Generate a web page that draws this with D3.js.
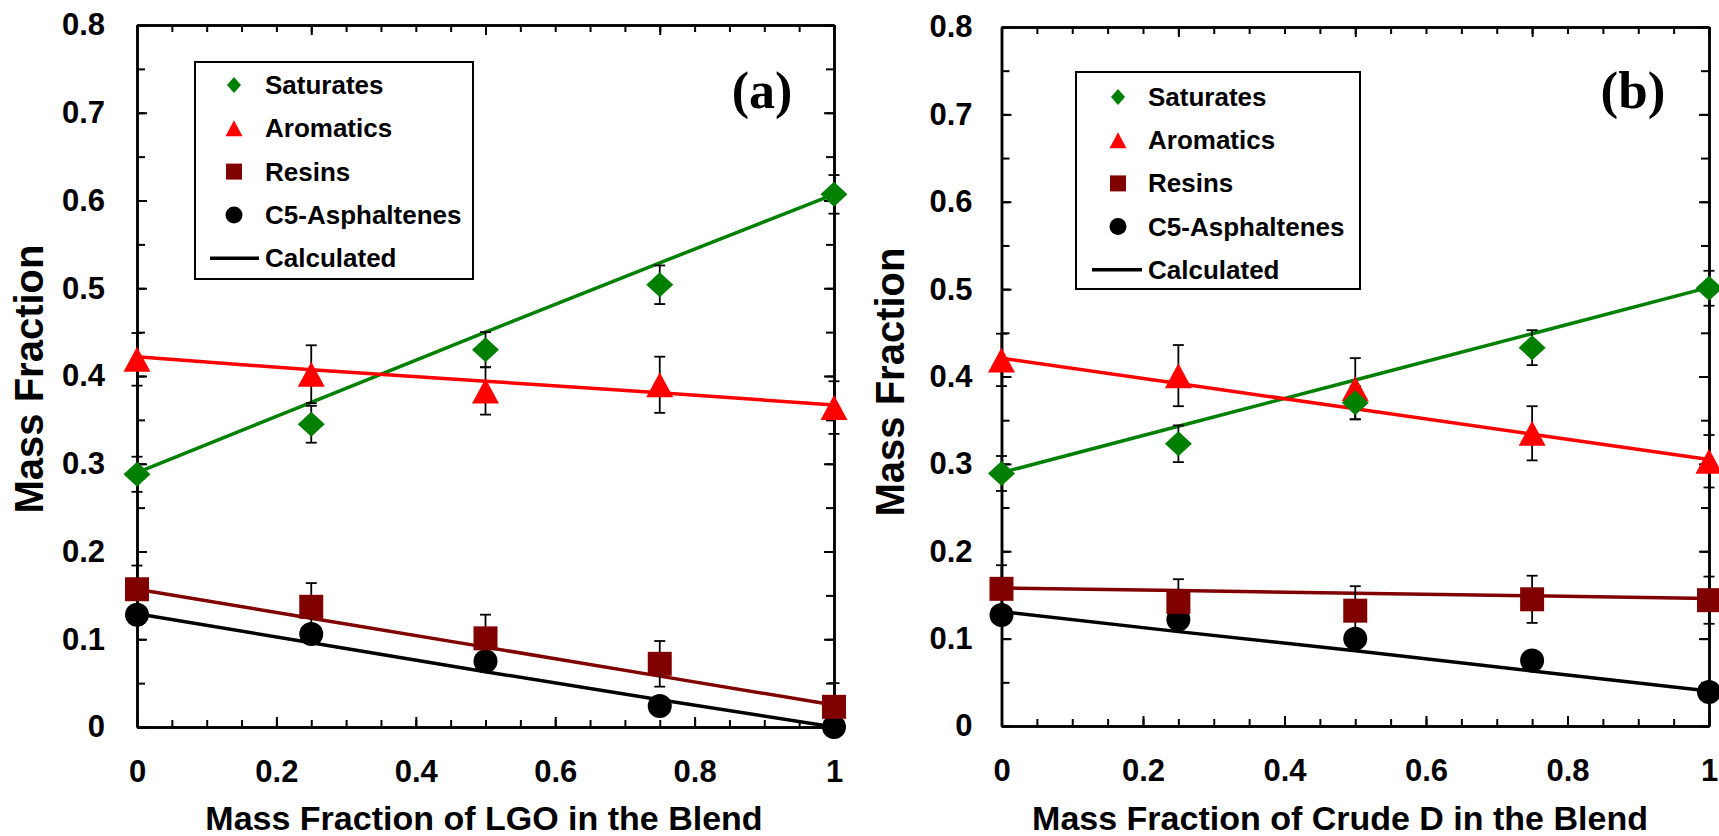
<!DOCTYPE html>
<html>
<head>
<meta charset="utf-8">
<script src="https://cdn.jsdelivr.net/npm/d3@7"></script>
<style>
  body { margin: 0; background: #fff; }
  text { font-family: "Liberation Sans", Arial, sans-serif; font-weight: bold; fill: #000; }
</style>
</head>
<body>
<svg id="chart"></svg>
<script>
// x positions shared by both panels
const blendFrac = [0, 0.25, 0.5, 0.75, 1];

// panel (a): LGO in the blend  -- measured points
const satA = [0.288, 0.345, 0.430, 0.504, 0.607];
const aroA = [0.419, 0.402, 0.383, 0.390, 0.364];
const resA = [0.157, 0.137, 0.101, 0.072, 0.023];
const c5A  = [0.128, 0.106, 0.075, 0.024, 0.000];
// error bars (+/-)
const satErrA = [0.020, 0.021, 0.020, 0.022, 0.022];
const aroErrA = [0.030, 0.033, 0.027, 0.032, 0.030];
const resErrA = [0.027, 0.027, 0.027, 0.026, 0.027];
const c5ErrA  = [0.006, 0.006, 0.006, 0.006, 0.006];
// calculated lines
const satCalcA = [0.290, 0.370, 0.450, 0.529, 0.607];
const aroCalcA = [0.422, 0.407, 0.394, 0.381, 0.367];
const resCalcA = [0.157, 0.124, 0.091, 0.058, 0.025];
const c5CalcA  = [0.129, 0.096, 0.063, 0.031, 0.000];

// panel (b): Crude D in the blend
const satB = [0.289, 0.323, 0.370, 0.433, 0.501];
const aroB = [0.419, 0.401, 0.386, 0.335, 0.303];
const resB = [0.157, 0.142, 0.132, 0.145, 0.144];
const c5B  = [0.127, 0.122, 0.100, 0.075, 0.039];
const satErrB = [0.020, 0.021, 0.019, 0.020, 0.020];
const aroErrB = [0.030, 0.035, 0.035, 0.031, 0.030];
const resErrB = [0.027, 0.026, 0.028, 0.027, 0.027];
const c5ErrB  = [0.006, 0.006, 0.006, 0.006, 0.006];
const satCalcB = [0.290, 0.343, 0.396, 0.449, 0.502];
const aroCalcB = [0.421, 0.392, 0.363, 0.334, 0.305];
const resCalcB = [0.158, 0.155, 0.152, 0.149, 0.146];
const c5CalcB  = [0.131, 0.108, 0.086, 0.063, 0.040];

// labels and ticks
const seriesNames = ["Saturates", "Aromatics", "Resins", "C5-Asphaltenes"];
const calcName = "Calculated";
const xTickValues = [0, 0.2, 0.4, 0.6, 0.8, 1];
const yTickValues = [0, 0.1, 0.2, 0.3, 0.4, 0.5, 0.6, 0.7, 0.8];
const xTopMajor = [0, 0.25, 0.5, 0.75, 1];
const minorStep = 0.05;
const yTitle = "Mass Fraction";

const svg = d3.select("#chart").attr("width", 1719).attr("height", 836);
svg.append("rect").attr("width", 1719).attr("height", 836).attr("fill", "#fff");

// marker styles, same order as seriesNames
const styles = [
  {kind: "diamond",  color: "#008000", w: 27, h: 25, lw: 14, lh: 16},
  {kind: "triangle", color: "#ff0000", w: 27, h: 25, lw: 17, lh: 16},
  {kind: "square",   color: "#800000", w: 24, h: 24, lw: 16, lh: 16},
  {kind: "circle",   color: "#000000", w: 24, h: 24, lw: 17, lh: 17}
];

function markerPath(kind, w, h) {
  let a = w / 2, b = h / 2;
  if (kind == "diamond") return `M0,${-b}L${a},0L0,${b}L${-a},0Z`;
  if (kind == "triangle") return `M0,${-b}L${a},${b}L${-a},${b}Z`;
  if (kind == "square") return `M${-a},${-b}H${a}V${b}H${-a}Z`;
  return `M${-a},0A${a},${b} 0 1,0 ${a},0A${a},${b} 0 1,0 ${-a},0Z`;
}

function addAxis(g, axisFn, scale, values, size, pos, labels, pad) {
  let ax = axisFn(scale).tickValues(values).tickSizeInner(-size).tickSizeOuter(0).tickPadding(pad || 0);
  ax.tickFormat(labels ? d3.format("~g") : "");
  let sel = g.append("g").attr("transform", pos).call(ax)
    .attr("font-family", null).attr("font-size", null);
  sel.select(".domain").attr("stroke-width", 2.5).attr("stroke", "#000");
  sel.selectAll(".tick line").attr("stroke-width", 2).attr("stroke", "#000");
  sel.selectAll(".tick text").attr("font-size", 31);
  return sel;
}

function drawPanel(p) {
  const x = d3.scaleLinear().domain([0, 1]).range([p.left, p.right]);
  const y = d3.scaleLinear().domain([0, 0.8]).range([p.bottom, p.top]);
  const g = svg.append("g");

  const xMinor = d3.range(0, 1 + 1e-9, minorStep);
  const yMinor = d3.range(0, 0.8 + 1e-9, minorStep);

  // frame: minor ticks first, then majors with labels
  addAxis(g, d3.axisBottom, x, xMinor, 7, `translate(0,${p.bottom})`, false);
  addAxis(g, d3.axisBottom, x, xTickValues, 10, `translate(0,${p.bottom})`, true, 33);
  addAxis(g, d3.axisTop, x, xMinor, 7, `translate(0,${p.top})`, false);
  addAxis(g, d3.axisTop, x, xTopMajor, 10, `translate(0,${p.top})`, false);
  addAxis(g, d3.axisLeft, y, yMinor, 8, `translate(${p.left},0)`, false);
  addAxis(g, d3.axisLeft, y, yTickValues, 10, `translate(${p.left},0)`, true, p.ypad);
  addAxis(g, d3.axisRight, y, yMinor, 8, `translate(${p.right},0)`, false);
  addAxis(g, d3.axisRight, y, yTickValues, 10, `translate(${p.right},0)`, false);

  // calculated lines
  const line = d3.line().x((d, i) => x(blendFrac[i])).y(d => y(d));
  p.calc.forEach((c, k) => {
    g.append("path").attr("d", line(c)).attr("fill", "none")
      .attr("stroke", styles[k].color).attr("stroke-width", 3.5);
  });

  // error bars
  p.meas.forEach((vals, k) => {
    vals.forEach((v, i) => {
      let e = p.err[k][i], cx = x(blendFrac[i]);
      let bar = g.append("g").attr("stroke", "#000").attr("stroke-width", 1.8);
      bar.append("line").attr("x1", cx).attr("x2", cx).attr("y1", y(v - e)).attr("y2", y(v + e));
      [v - e, v + e].forEach(t => {
        bar.append("line").attr("x1", cx - 5.5).attr("x2", cx + 5.5).attr("y1", y(t)).attr("y2", y(t));
      });
    });
  });

  // markers: draw saturates last so it sits on top
  [3, 2, 1, 0].forEach(k => {
    let s = styles[k];
    g.selectAll(null).data(p.meas[k]).enter().append("path")
      .attr("d", markerPath(s.kind, s.w, s.h))
      .attr("transform", (d, i) => `translate(${x(blendFrac[i])},${y(d)})`)
      .attr("fill", s.color);
  });

  // legend
  const L = p.legend;
  g.append("rect").attr("x", L.x).attr("y", L.y).attr("width", L.w).attr("height", L.h)
    .attr("fill", "#fff").attr("stroke", "#000").attr("stroke-width", 2);
  seriesNames.concat([calcName]).forEach((name, i) => {
    let cy = L.row0 + i * L.step;
    if (i < 4) {
      let s = styles[i];
      g.append("path").attr("d", markerPath(s.kind, s.lw, s.lh))
        .attr("transform", `translate(${L.mx},${cy})`).attr("fill", s.color);
    } else {
      g.append("line").attr("x1", L.lx1).attr("x2", L.lx2).attr("y1", cy).attr("y2", cy)
        .attr("stroke", "#000").attr("stroke-width", 3.5);
    }
    g.append("text").attr("x", L.tx).attr("y", cy + 9).attr("font-size", 26).text(name);
  });

  // panel letter
  g.append("text").attr("x", p.tag.x).attr("y", 108).attr("text-anchor", "middle")
    .style("font-family", '"Liberation Serif", "Times New Roman", serif')
    .attr("font-size", p.tag.size).text(p.tag.text);

  // axis titles
  g.append("text").attr("x", p.xtitle.x).attr("y", 830).attr("text-anchor", "middle")
    .attr("font-size", 34).text(p.xtitle.text);
  g.append("text").attr("transform", `translate(${p.ytitle.x},${p.ytitle.y}) rotate(-90)`)
    .attr("text-anchor", "middle").attr("font-size", 40).text(yTitle);
}

drawPanel({
  left: 137, right: 834, top: 25, bottom: 727, ypad: 32,
  meas: [satA, aroA, resA, c5A],
  err: [satErrA, aroErrA, resErrA, c5ErrA],
  calc: [satCalcA, aroCalcA, resCalcA, c5CalcA],
  legend: {x: 195, y: 62, w: 278, h: 217, row0: 85, step: 43.3, mx: 234, tx: 265, lx1: 210, lx2: 259},
  tag: {x: 762, size: 52, text: "(a)"},
  xtitle: {x: 484, text: "Mass Fraction of LGO in the Blend"},
  ytitle: {x: 43, y: 379}
});

drawPanel({
  left: 1001.5, right: 1709, top: 27, bottom: 726, ypad: 29,
  meas: [satB, aroB, resB, c5B],
  err: [satErrB, aroErrB, resErrB, c5ErrB],
  calc: [satCalcB, aroCalcB, resCalcB, c5CalcB],
  legend: {x: 1076, y: 72, w: 284, h: 217, row0: 97, step: 43.2, mx: 1118, tx: 1148, lx1: 1092, lx2: 1142},
  tag: {x: 1633, size: 53, text: "(b)"},
  xtitle: {x: 1340, text: "Mass Fraction of Crude D in the Blend"},
  ytitle: {x: 904, y: 382}
});
</script>
</body>
</html>
